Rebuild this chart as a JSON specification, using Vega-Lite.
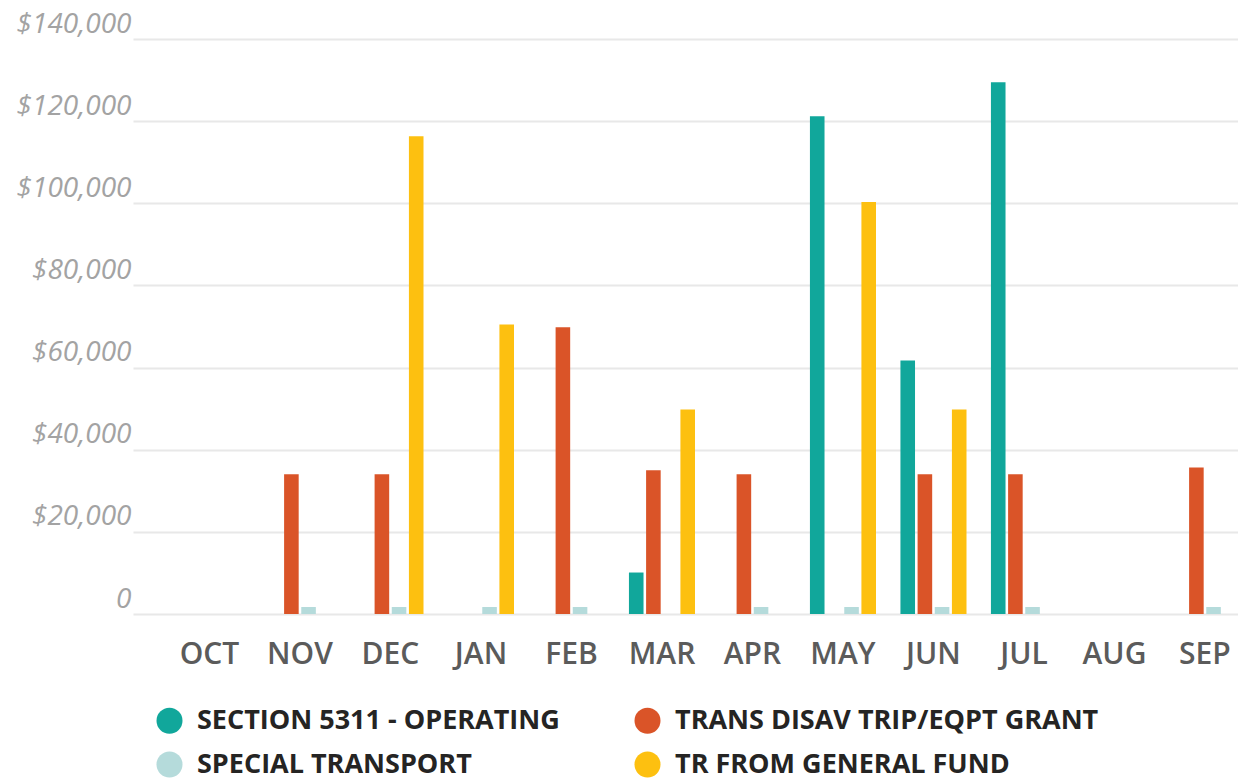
{
  "$schema": "https://vega.github.io/schema/vega-lite/v6.json",
  "autosize": {"type": "none"},
  "width": 1105,
  "height": 575,
  "padding": {"left": 133, "top": 39, "right": 0, "bottom": 166},
  "background": "white",
  "config": {"view": {"stroke": null}},
  "data": {
    "values": [
      {"month": "NOV", "series": "TRANS DISAV TRIP/EQPT GRANT", "amount": 34000},
      {"month": "NOV", "series": "SPECIAL TRANSPORT", "amount": 1700},
      {"month": "DEC", "series": "TRANS DISAV TRIP/EQPT GRANT", "amount": 34000},
      {"month": "DEC", "series": "SPECIAL TRANSPORT", "amount": 1700},
      {"month": "DEC", "series": "TR FROM GENERAL FUND", "amount": 116300},
      {"month": "JAN", "series": "SPECIAL TRANSPORT", "amount": 1700},
      {"month": "JAN", "series": "TR FROM GENERAL FUND", "amount": 70500},
      {"month": "FEB", "series": "TRANS DISAV TRIP/EQPT GRANT", "amount": 69800},
      {"month": "FEB", "series": "SPECIAL TRANSPORT", "amount": 1700},
      {"month": "MAR", "series": "SECTION 5311 - OPERATING", "amount": 10100},
      {"month": "MAR", "series": "TRANS DISAV TRIP/EQPT GRANT", "amount": 35000},
      {"month": "MAR", "series": "TR FROM GENERAL FUND", "amount": 49800},
      {"month": "APR", "series": "TRANS DISAV TRIP/EQPT GRANT", "amount": 34000},
      {"month": "APR", "series": "SPECIAL TRANSPORT", "amount": 1700},
      {"month": "MAY", "series": "SECTION 5311 - OPERATING", "amount": 121200},
      {"month": "MAY", "series": "SPECIAL TRANSPORT", "amount": 1700},
      {"month": "MAY", "series": "TR FROM GENERAL FUND", "amount": 100300},
      {"month": "JUN", "series": "SECTION 5311 - OPERATING", "amount": 61700},
      {"month": "JUN", "series": "TRANS DISAV TRIP/EQPT GRANT", "amount": 34000},
      {"month": "JUN", "series": "SPECIAL TRANSPORT", "amount": 1700},
      {"month": "JUN", "series": "TR FROM GENERAL FUND", "amount": 49800},
      {"month": "JUL", "series": "SECTION 5311 - OPERATING", "amount": 129500},
      {"month": "JUL", "series": "TRANS DISAV TRIP/EQPT GRANT", "amount": 34000},
      {"month": "JUL", "series": "SPECIAL TRANSPORT", "amount": 1700},
      {"month": "SEP", "series": "TRANS DISAV TRIP/EQPT GRANT", "amount": 35700},
      {"month": "SEP", "series": "SPECIAL TRANSPORT", "amount": 1700}
    ]
  },
  "mark": {"type": "bar"},
  "encoding": {
    "x": {
      "field": "month",
      "type": "nominal",
      "sort": ["OCT", "NOV", "DEC", "JAN", "FEB", "MAR", "APR", "MAY", "JUN", "JUL", "AUG", "SEP"],
      "scale": {
        "domain": ["OCT", "NOV", "DEC", "JAN", "FEB", "MAR", "APR", "MAY", "JUN", "JUL", "AUG", "SEP"],
        "paddingInner": 0.27,
        "paddingOuter": 0.24,
        "align": 1
      },
      "axis": {
        "title": null,
        "domain": false,
        "ticks": false,
        "labelAngle": 0,
        "labelFont": "Open Sans",
        "labelFontSize": 30,
        "labelFontWeight": 600,
        "labelColor": "#5b5b5b",
        "labelBaseline": "middle",
        "labelPadding": 40
      }
    },
    "xOffset": {
      "field": "series",
      "type": "nominal",
      "scale": {
        "domain": ["SECTION 5311 - OPERATING", "TRANS DISAV TRIP/EQPT GRANT", "SPECIAL TRANSPORT", "TR FROM GENERAL FUND"],
        "paddingInner": 0.15,
        "paddingOuter": 0
      }
    },
    "y": {
      "field": "amount",
      "type": "quantitative",
      "scale": {"domain": [0, 140000], "nice": false},
      "axis": {
        "title": null,
        "domain": false,
        "ticks": false,
        "grid": true,
        "gridColor": "#e8e8e8",
        "gridWidth": 2,
        "values": [0, 20000, 40000, 60000, 80000, 100000, 120000, 140000],
        "labelExpr": "datum.value === 0 ? '0' : '$' + format(datum.value, ',')",
        "labelFont": "Open Sans",
        "labelFontStyle": "italic",
        "labelFontWeight": 400,
        "labelFontSize": 28,
        "labelColor": "#a3a3a3",
        "labelPadding": 2,
        "labelBaseline": "alphabetic",
        "labelOffset": -7
      }
    },
    "color": {
      "field": "series",
      "type": "nominal",
      "scale": {
        "domain": ["SECTION 5311 - OPERATING", "TRANS DISAV TRIP/EQPT GRANT", "SPECIAL TRANSPORT", "TR FROM GENERAL FUND"],
        "range": ["#11a79b", "#da5428", "#b5dbdb", "#fdc010"]
      },
      "legend": {
        "title": null,
        "orient": "none",
        "legendX": 23,
        "legendY": 668,
        "direction": "horizontal",
        "columns": 2,
        "padding": 0,
        "symbolType": "circle",
        "symbolSize": 676,
        "symbolStrokeWidth": 0,
        "symbolOpacity": 1,
        "labelFont": "Open Sans",
        "labelFontSize": 27,
        "labelFontWeight": "bold",
        "labelColor": "#252423",
        "labelOffset": 14,
        "labelLimit": 0,
        "columnPadding": 74,
        "rowPadding": 16
      }
    }
  }
}
